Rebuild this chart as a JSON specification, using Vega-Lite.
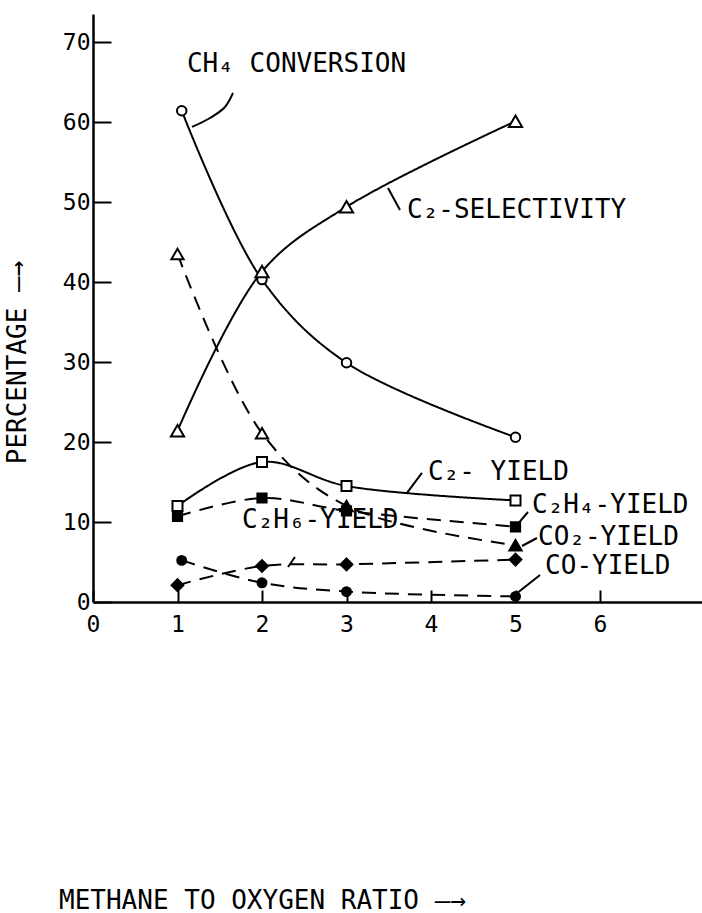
{
  "$schema": "https://vega.github.io/schema/vega-lite/v6.json",
  "autosize": {"type": "none"},
  "padding": {"left": 93, "top": 14, "right": 0, "bottom": 311},
  "width": 609,
  "height": 588,
  "background": "white",
  "config": {
    "view": {"stroke": null},
    "axis": {
      "grid": false,
      "domainColor": "black",
      "domainWidth": 2.5,
      "tickColor": "black",
      "tickWidth": 2,
      "labelColor": "black",
      "titleColor": "black",
      "labelFont": "DejaVu Sans Mono",
      "titleFont": "DejaVu Sans Mono",
      "labelFontWeight": "normal",
      "titleFontWeight": "normal"
    }
  },
  "datasets": {
    "series": [
      {"series": "CH4 conversion", "ratio": 1.05, "pct": 61.4},
      {"series": "CH4 conversion", "ratio": 2, "pct": 40.3},
      {"series": "CH4 conversion", "ratio": 3, "pct": 29.9},
      {"series": "CH4 conversion", "ratio": 5, "pct": 20.6},
      {"series": "C2-selectivity", "ratio": 1, "pct": 21.4},
      {"series": "C2-selectivity", "ratio": 2, "pct": 41.3},
      {"series": "C2-selectivity", "ratio": 3, "pct": 49.4},
      {"series": "C2-selectivity", "ratio": 5, "pct": 60.1},
      {"series": "CO2-yield", "ratio": 1, "pct": 43.5},
      {"series": "CO2-yield", "ratio": 2, "pct": 21.1},
      {"series": "CO2-yield", "ratio": 3, "pct": 12.0},
      {"series": "CO2-yield", "ratio": 5, "pct": 7.1},
      {"series": "C2-yield", "ratio": 1, "pct": 12.0},
      {"series": "C2-yield", "ratio": 2, "pct": 17.5},
      {"series": "C2-yield", "ratio": 3, "pct": 14.5},
      {"series": "C2-yield", "ratio": 5, "pct": 12.7},
      {"series": "C2H4-yield", "ratio": 1, "pct": 10.7},
      {"series": "C2H4-yield", "ratio": 2, "pct": 13.0},
      {"series": "C2H4-yield", "ratio": 3, "pct": 11.4},
      {"series": "C2H4-yield", "ratio": 5, "pct": 9.4},
      {"series": "C2H6-yield", "ratio": 1, "pct": 2.1},
      {"series": "C2H6-yield", "ratio": 2, "pct": 4.5},
      {"series": "C2H6-yield", "ratio": 3, "pct": 4.7},
      {"series": "C2H6-yield", "ratio": 5, "pct": 5.3},
      {"series": "CO-yield", "ratio": 1.05, "pct": 5.2},
      {"series": "CO-yield", "ratio": 2, "pct": 2.4},
      {"series": "CO-yield", "ratio": 3, "pct": 1.3},
      {"series": "CO-yield", "ratio": 5, "pct": 0.7}
    ],
    "labels": [
      {"label": "CH₄ CONVERSION", "ratio": 1.112, "pct": 66.25},
      {"label": "C₂-SELECTIVITY", "ratio": 3.716, "pct": 48.0},
      {"label": "C₂- YIELD", "ratio": 3.964, "pct": 15.25},
      {"label": "C₂H₄-YIELD", "ratio": 5.195, "pct": 11.1},
      {"label": "CO₂-YIELD", "ratio": 5.266, "pct": 7.1},
      {"label": "CO-YIELD", "ratio": 5.35, "pct": 3.5},
      {"label": "C₂H₆-YIELD", "ratio": 1.763, "pct": 9.2}
    ],
    "leaders": [
      {"leader": "CH4 conversion", "ratio": 1.657, "pct": 63.63},
      {"leader": "CH4 conversion", "ratio": 1.562, "pct": 61.88},
      {"leader": "CH4 conversion", "ratio": 1.385, "pct": 60.5},
      {"leader": "CH4 conversion", "ratio": 1.172, "pct": 59.38},
      {"leader": "C2-selectivity", "ratio": 3.491, "pct": 51.75},
      {"leader": "C2-selectivity", "ratio": 3.633, "pct": 49.0},
      {"leader": "C2-yield", "ratio": 3.716, "pct": 13.63},
      {"leader": "C2-yield", "ratio": 3.893, "pct": 16.13},
      {"leader": "C2H4-yield", "ratio": 5.018, "pct": 9.63},
      {"leader": "C2H4-yield", "ratio": 5.148, "pct": 11.25},
      {"leader": "CO2-yield", "ratio": 5.077, "pct": 7.0},
      {"leader": "CO2-yield", "ratio": 5.254, "pct": 8.0},
      {"leader": "CO-yield", "ratio": 5.006, "pct": 1.0},
      {"leader": "CO-yield", "ratio": 5.29, "pct": 3.38},
      {"leader": "C2H6-yield", "ratio": 2.39, "pct": 5.63},
      {"leader": "C2H6-yield", "ratio": 2.308, "pct": 4.38}
    ]
  },
  "layer": [
    {
      "data": {"name": "series"},
      "mark": {"type": "line", "interpolate": "catmull-rom", "color": "black", "strokeWidth": 2},
      "encoding": {
        "x": {
          "field": "ratio", "type": "quantitative",
          "scale": {"domain": [0, 7.207], "nice": false, "zero": false},
          "axis": {
            "title": "METHANE TO OXYGEN RATIO —→",
            "values": [0, 1, 2, 3, 4, 5, 6],
            "format": "d",
            "tickSize": -12,
            "labelPadding": 23,
            "labelFontSize": 23,
            "labelFlush": false,
            "titleFontSize": 26,
            "titleX": 169,
            "titleY": 306,
            "titleAlign": "center",
            "titleBaseline": "alphabetic"
          }
        },
        "y": {
          "field": "pct", "type": "quantitative",
          "scale": {"domain": [0, 73.5], "nice": false},
          "axis": {
            "title": "PERCENTAGE —→",
            "values": [0, 10, 20, 30, 40, 50, 60, 70],
            "format": "d",
            "tickSize": -18,
            "labelPadding": 21,
            "labelFontSize": 23,
            "titleFontSize": 26,
            "titleX": -68,
            "titleY": 348,
            "titleAlign": "center",
            "titleBaseline": "alphabetic",
            "titleAngle": 270
          }
        },
        "detail": {"field": "series"},
        "strokeDash": {
          "field": "series", "type": "nominal", "legend": null,
          "scale": {
            "domain": ["CH4 conversion", "C2-selectivity", "CO2-yield", "C2-yield", "C2H4-yield", "C2H6-yield", "CO-yield"],
            "range": [[1, 0], [1, 0], [14, 9], [1, 0], [14, 9], [14, 9], [14, 9]]
          }
        }
      }
    },
    {
      "data": {"name": "series"},
      "mark": {"type": "point", "filled": false, "stroke": "black", "strokeWidth": 2, "opacity": 1},
      "encoding": {
        "x": {"field": "ratio", "type": "quantitative"},
        "y": {"field": "pct", "type": "quantitative"},
        "shape": {
          "field": "series", "type": "nominal", "legend": null,
          "scale": {
            "domain": ["CH4 conversion", "C2-selectivity", "CO2-yield", "C2-yield", "C2H4-yield", "C2H6-yield", "CO-yield"],
            "range": ["circle", "triangle-up", "triangle-up", "square", "square", "diamond", "circle"]
          }
        },
        "size": {
          "field": "series", "type": "nominal", "legend": null,
          "scale": {
            "type": "ordinal",
            "domain": ["CH4 conversion", "C2-selectivity", "CO2-yield", "C2-yield", "C2H4-yield", "C2H6-yield", "CO-yield"],
            "range": [90, 175, 150, 100, 85, 140, 80]
          }
        },
        "fill": {
          "condition": {"test": "datum.series === 'CO2-yield' && datum.ratio < 2.5", "value": "white"},
          "field": "series", "type": "nominal", "legend": null,
          "scale": {
            "domain": ["CH4 conversion", "C2-selectivity", "CO2-yield", "C2-yield", "C2H4-yield", "C2H6-yield", "CO-yield"],
            "range": ["white", "white", "black", "white", "black", "black", "black"]
          }
        }
      }
    },
    {
      "data": {"name": "leaders"},
      "mark": {"type": "line", "interpolate": "catmull-rom", "color": "black", "strokeWidth": 2},
      "encoding": {
        "x": {"field": "ratio", "type": "quantitative"},
        "y": {"field": "pct", "type": "quantitative"},
        "detail": {"field": "leader"}
      }
    },
    {
      "data": {"name": "labels"},
      "mark": {"type": "text", "align": "left", "baseline": "alphabetic", "font": "DejaVu Sans Mono", "fontSize": 26, "color": "black"},
      "encoding": {
        "x": {"field": "ratio", "type": "quantitative"},
        "y": {"field": "pct", "type": "quantitative"},
        "text": {"field": "label"}
      }
    },
    {
      "mark": {"type": "rule", "color": "black", "strokeWidth": 2.5},
      "encoding": {"y": {"datum": 73.5}}
    }
  ]
}
